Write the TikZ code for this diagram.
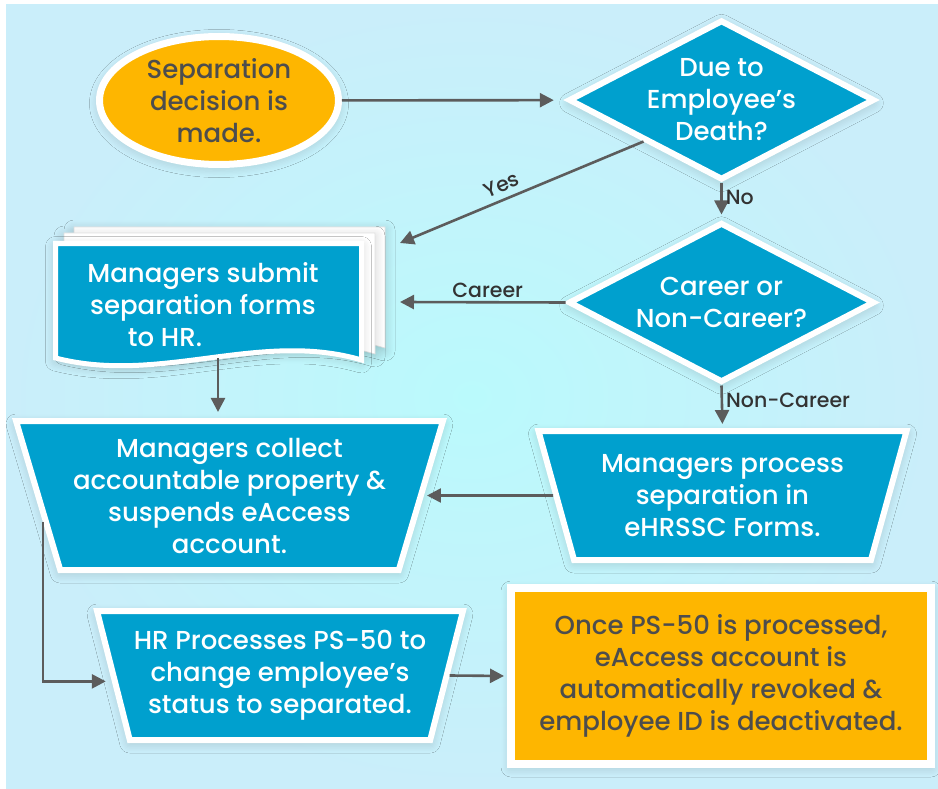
\documentclass[tikz,border=0pt]{standalone}
\usepackage{fontspec}
\setmainfont{Poppins Medium}
\usetikzlibrary{arrows.meta,positioning,shapes.geometric,calc,shadows.blur}

\definecolor{bgmid}{RGB}{186,250,252}
\definecolor{bgedge}{RGB}{202,238,250}
\definecolor{procblue}{RGB}{0,160,206}
\definecolor{sunorange}{RGB}{254,182,0}
\definecolor{inkgray}{RGB}{77,77,77}
\definecolor{arrowgray}{RGB}{92,92,92}

\tikzset{
  halo/.style={blur shadow={shadow xshift=0pt, shadow yshift=-3pt,
      shadow blur radius=10pt, shadow opacity=18, shadow blur steps=8}},
  boxtext/.style={align=center, font=\fontsize{26}{32}\selectfont, inner sep=0pt},
  terminal/.style={boxtext, ellipse, draw=white, line width=7pt, fill=sunorange,
      text=inkgray, minimum width=239pt, minimum height=128pt, inner sep=-8pt, halo},
  decision/.style={boxtext, diamond, aspect=1.91, draw=white, line width=6pt, fill=procblue,
      text=white, minimum width=306pt, minimum height=160pt, inner sep=-16pt, halo},
  manual/.style={boxtext, trapezium, shape border rotate=180, trapezium stretches=true,
      trapezium left angle=70.5, trapezium right angle=70.5,
      draw=white, line width=6pt, fill=procblue, text=white, halo},
  endbox/.style={boxtext, rectangle, draw=white, line width=8pt, fill=sunorange,
      text=inkgray, minimum width=420pt, minimum height=176pt, halo},
  flow/.style={draw=arrowgray, line width=2.6pt, -{Triangle[length=14pt,width=14pt]}},
  lbl/.style={font=\fontsize{20.5}{22}\selectfont, text=black!80, inner sep=3pt},
}

\begin{document}
\begin{tikzpicture}[x=1pt, y=-1pt]
\useasboundingbox (0,0) rectangle (938,789);
\fill[white] (0,0) rectangle (938,789);
\shade[inner color=bgmid, outer color=bgedge] (6,5) rectangle (938,789);

% stacked forms, back sheets first
\foreach \dx/\dy in {21/-14, 11/-8}
  \filldraw[fill=white, draw=black!12, line width=0.6pt, halo, shift={(\dx,\dy)}]
    (53,241) -- (364,241) -- (364,362) .. controls (262,331) and (160,387) .. (53,360) -- cycle;
\filldraw[fill=procblue, draw=white, line width=5pt, halo]
  (55.5,243.5) -- (361.5,243.5) -- (361.5,360) .. controls (260,330) and (160,385) .. (55.5,358) -- cycle;
\node[boxtext, text=white] (forms) at (203,305)
  {Managers submit\\separation forms\\\hspace*{-76pt}to HR.};
\coordinate (formsNE) at (400,243);
\coordinate (formsE) at (400,302);
\coordinate (formsS) at (218,358);

% steps
\node[terminal] (start) at (219,100.5) {Separation\\decision is\\made.};
\node[decision] (death) at (721.5,100) {Due to\\Employee’s\\Death?};
\node[decision] (career) at (721.5,302.5) {Career or\\Non-Career?};
\node[manual, minimum width=427pt, minimum height=149pt] (collect) at (229.5,495.5)
  {Managers collect\\accountable property \&\\suspends eAccess\\account.};
\node[manual, minimum width=369pt, minimum height=129pt] (nonc) at (722.5,495.5)
  {Managers process\\separation in\\eHRSSC Forms.};
\node[manual, minimum width=368pt, minimum height=129pt] (hrproc) at (280,675.5)
  {HR Processes PS-50 to\\change employee’s\\status to separated.};
\node[endbox] (done) at (721,676)
  {Once PS-50 is processed,\\eAccess account is\\automatically revoked \&\\employee ID is deactivated.};

% connectors
\draw[flow, shorten >=12pt] (start) -- (death);
\draw[flow] (death.south west) -- (formsNE) node[pos=0.56, sloped, above=3pt, lbl] {Yes};
\draw[flow, shorten >=5pt] (death.south) -- (career.north) node[pos=0.4, right, lbl] {No};
\draw[flow] (career.west) -- (formsE) node[pos=0.47, above, lbl] {Career};
\draw[flow, shorten >=6pt] (formsS) -- (formsS |- collect.north);
\draw[flow, shorten >=4pt] (career.south) -- (nonc.north) node[pos=0.35, right, lbl] {Non-Career};
\draw[flow, shorten >=3pt] (nonc.west) -- (collect.east);
\draw[flow, shorten >=6pt] (collect.188) |- (hrproc.182);
\draw[flow, shorten >=3pt] (hrproc.east) -- (done.west);
\end{tikzpicture}
\end{document}
